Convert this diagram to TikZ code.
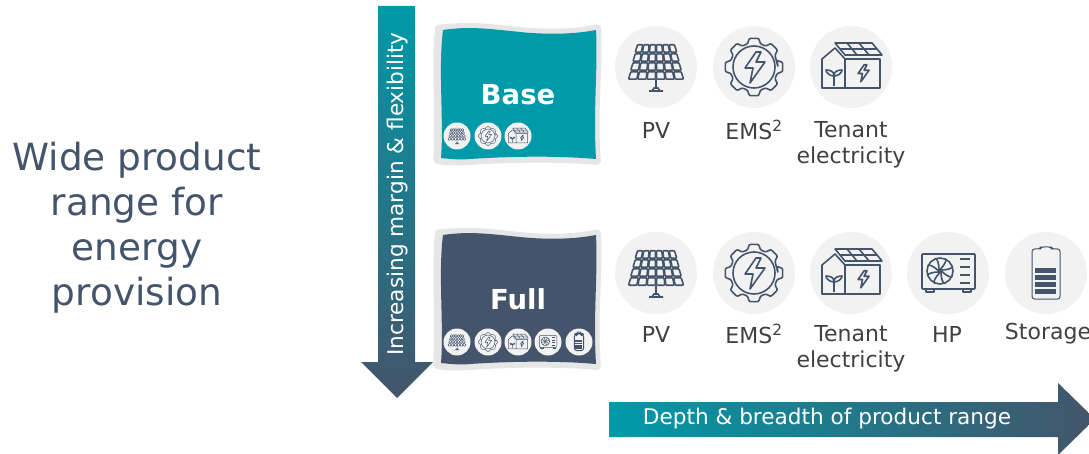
\documentclass[tikz,border=0pt]{standalone}
\usepackage{fontspec}
\setmainfont{DejaVu Sans}
\definecolor{slateblue}{HTML}{44546A}
\definecolor{tealc}{HTML}{009AA8}
\definecolor{deept}{HTML}{005F7A}
\definecolor{framec}{HTML}{E6E6E6}
\definecolor{discc}{HTML}{F2F2F2}
\definecolor{labelc}{HTML}{404040}
\newcommand{\fsz}[1]{\fontsize{#1}{#1}\selectfont}
\newcommand{\boltpath}{(2,-15) -- (-9,1) -- (-1,1) -- (-4,16) -- (11,-5) -- (2,-5) -- (7,-15) -- cycle}
\tikzset{
  iconln/.style={draw=slateblue,line width=1.6pt,line join=round,fill=none},
  pvicon/.pic={
    \foreach \r in {0,1,2,3}{
      \foreach \c in {0,1,2,3,4,5}{
        \pgfmathsetmacro{\ya}{-23+9*\r+0.8}
        \pgfmathsetmacro{\yb}{-23+9*(\r+1)-0.8}
        \pgfmathsetmacro{\wa}{19+9*(\r)/4}
        \pgfmathsetmacro{\wb}{19+9*(\r+1)/4}
        \path[iconln,rounded corners=.8] ({(\c/3-1)*\wa+.5},\ya) -- ({((\c+1)/3-1)*\wa-.5},\ya) -- ({((\c+1)/3-1)*\wb-.5},\yb) -- ({(\c/3-1)*\wb+.5},\yb) -- cycle;
      }
    }
    \path[iconln] (0,13) -- (0,22) (-7,24) -- (7,24) (-4,24) -- (-2,21) -- (2,21) -- (4,24);
  },
  gearicon/.pic={
    \path[iconln,rounded corners=1] (0:24)
      \foreach \a in {0,45,...,315}{
        -- ({\a-16}:24) -- ({\a-9}:29) -- ({\a+9}:29) -- ({\a+16}:24)
      } -- cycle;
    \path[iconln] (0,0) circle (21);
    \path[iconln] \boltpath;
  },
  houseicon/.pic={
    \path[iconln] (-6,-8) -- (-16,-19) -- (-29,-8) -- (-29,21) -- (29,21) -- (29,-8) -- (-6,-8) -- (-6,21);
    \path[iconln] (-16,-24) -- (21,-24) -- (31,-12) -- (-6,-12) -- cycle;
    \path[iconln] (-4,-24) -- (6,-12) (8,-24) -- (18,-12) (-11,-18) -- (26,-18);
    \path[iconln] (-17,19) -- (-17,8) (-17,8) .. controls (-17,4) and (-22,3) .. (-25,3) .. controls (-25,6) and (-21,9) .. (-17,9) .. controls (-13,9) and (-9,6) .. (-9,3) .. controls (-12,3) and (-17,4) .. (-17,8);
    \begin{scope}[shift={(12,6)},scale=.55]
      \path[iconln] \boltpath;
    \end{scope}
  },
  hpicon/.pic={
    \path[iconln,rounded corners=.8] (-26,-19) rectangle (27,16);
    \path[iconln] (-8,-2) circle (13);
    \path[iconln] (-8,-2) circle (1.5);
    \foreach \a in {0,45,...,315}{
      \path[iconln] (-8,-2) ++(\a:1.5) .. controls +(\a+50:5) and +(\a+90:3) .. ++(\a+25:12);
    }
    \foreach \y in {-14,-6,2,10}{
      \path[iconln] (12,\y) -- (22,\y);
    }
    \path[iconln] (-22,16) -- (-22,19) -- (-14,19) -- (-14,16) (15,16) -- (15,19) -- (23,19) -- (23,16);
  },
  baticon/.pic={
    \path[iconln,line width=1pt,rounded corners=2.5] (-14,-24) -- (-6,-24) -- (-5,-26) -- (5,-26) -- (6,-24) -- (14,-24) -- (14,26) -- (-14,26) -- cycle;
    \foreach \y in {-5,2,9,16}{
      \fill[slateblue] (-11,\y) rectangle (10,\y+5.2);
    }
  },
  disc/.style={fill=discc,draw=none},
  lbl/.style={text=labelc,align=center,inner sep=0pt,font=\fsz{22}},
  arrowtxt/.style={text=white,inner sep=0pt,font=\fsz{21.6}},
  tiertxt/.style={text=white,inner sep=0pt,font=\fsz{27.5}\bfseries},
}
\newcommand{\wavybox}[1]{%
  \fill[framec,rounded corners=2] (436,25) .. controls (470,21) and (490,24) .. (520,27) .. controls (550,30) and (575,29) .. (599,24) -- (601,27)
     .. controls (603,70) and (597,110) .. (601,163) -- (598,165) .. controls (550,161) and (500,163) .. (470,165) .. controls (455,166) and (445,165) .. (436,164) -- (433,161)
     .. controls (436,120) and (431,70) .. (435,28) -- cycle;
  \fill[#1] (443,30) .. controls (470,26) and (490,29) .. (520,32) .. controls (550,35) and (575,34) .. (596,30)
     .. controls (598,70) and (593,110) .. (596,159) .. controls (550,155) and (500,157) .. (470,159) .. controls (460,160) and (450,159) .. (441,158)
     .. controls (444,120) and (438,70) .. (443,30) -- cycle;
}
\begin{document}
\begin{tikzpicture}[x=1pt,y=-1pt]
\useasboundingbox (0,0) rectangle (1089,454);
\clip (0,0) rectangle (1089,454);

\node[text=slateblue,align=center,inner sep=0pt,font=\fontsize{37.4}{45}\selectfont] (title) at (137,228) {Wide product\\range for\\energy\\provision};

\shade[top color=tealc,middle color=deept,bottom color=slateblue]
  (378,6) -- (415,6) -- (415,362) -- (433,362) -- (397,398) -- (361,362) -- (378,362) -- cycle;
\node[arrowtxt,rotate=90] (vtxt) at (398,194) {Increasing margin \& flexibility};

\shade[left color=tealc,middle color=deept!80!slateblue,right color=slateblue]
  (609,402) -- (1058,402) -- (1058,383) -- (1095,419) -- (1058,455) -- (1058,437) -- (609,437) -- cycle;
\node[arrowtxt] (htxt) at (827,419) {Depth \& breadth of product range};

\wavybox{tealc}
\begin{scope}[yshift=-205pt]
  \wavybox{slateblue}
\end{scope}
\node[tiertxt] (base) at (518,95) {Base};
\node[tiertxt] (full) at (518,299) {Full};

% small icons
\begin{scope}
  \tikzset{iconln/.style={draw=slateblue,line width=.5pt,line join=round,fill=none}}
  \foreach \x/\ic in {457/pvicon,488/gearicon,518/houseicon}{
    \fill[disc] (\x,136) circle (13.5);
    \pic[scale=.33] at (\x,136) {\ic};
  }
  \foreach \x/\ic in {457/pvicon,488/gearicon,518/houseicon,548/hpicon,579/baticon}{
    \fill[disc] (\x,342) circle (13.5);
    \pic[scale=.33] at (\x,342) {\ic};
  }
\end{scope}

% large icons
\foreach \x/\ic in {656/pvicon,754/gearicon,851/houseicon}{
  \fill[disc] (\x,67) circle (41);
  \pic at (\x,67) {\ic};
}
\foreach \x/\ic in {656/pvicon,754/gearicon,851/houseicon,948/hpicon,1046/baticon}{
  \fill[disc] (\x,273) circle (41);
  \pic at (\x,273) {\ic};
}

\node[lbl] (pva) at (656,130) {PV};
\node[lbl] (emsa) at (754,130) {EMS\textsuperscript{2}};
\node[lbl,anchor=north,font=\fontsize{22}{26}\selectfont] (tena) at (851,121) {Tenant\\electricity};
\node[lbl] (pvb) at (656,334) {PV};
\node[lbl] (emsb) at (754,334) {EMS\textsuperscript{2}};
\node[lbl,anchor=north,font=\fontsize{22}{26}\selectfont] (tenb) at (851,325) {Tenant\\electricity};
\node[lbl] (hp) at (947,334) {HP};
\node[lbl] (stor) at (1048,334) {Storage};
\end{tikzpicture}
\end{document}
